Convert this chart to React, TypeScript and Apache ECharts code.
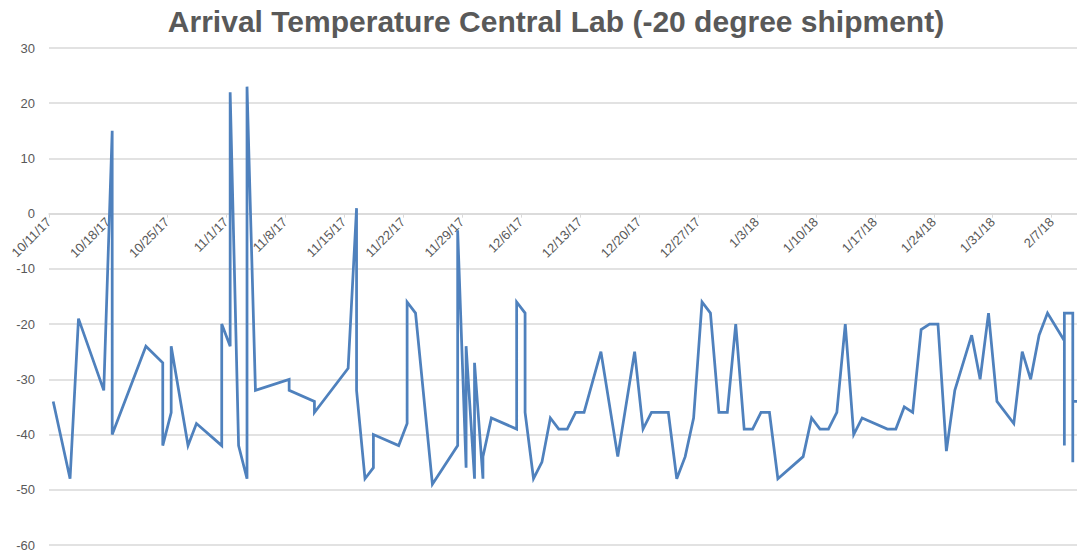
import React, { useEffect, useRef } from "react";
import * as echarts from "echarts";

const chartTitle = "Arrival Temperature Central Lab (-20 degree shipment)";

// Arrival dates (M/D/YY) and arrival temperatures (°C), in order of the line
const arrivalDates = [
  "10/11/17", "10/13/17", "10/14/17", "10/17/17", "10/18/17", "10/18/17",
  "10/22/17", "10/24/17", "10/24/17", "10/25/17", "10/25/17", "10/27/17",
  "10/28/17", "10/31/17", "10/31/17", "11/1/17", "11/1/17", "11/2/17",
  "11/3/17", "11/3/17", "11/4/17", "11/8/17", "11/8/17", "11/11/17",
  "11/11/17", "11/15/17", "11/16/17", "11/16/17", "11/17/17", "11/18/17",
  "11/18/17", "11/21/17", "11/22/17", "11/22/17", "11/23/17", "11/25/17",
  "11/28/17", "11/28/17", "11/29/17", "11/29/17", "11/30/17", "11/30/17",
  "12/1/17", "12/1/17", "12/2/17", "12/5/17", "12/5/17", "12/6/17",
  "12/6/17", "12/7/17", "12/8/17", "12/9/17", "12/10/17", "12/11/17",
  "12/12/17", "12/13/17", "12/15/17", "12/17/17", "12/19/17", "12/20/17",
  "12/21/17", "12/23/17", "12/24/17", "12/25/17", "12/26/17", "12/27/17",
  "12/28/17", "12/29/17", "12/30/17", "12/31/17", "1/1/18", "1/2/18",
  "1/3/18", "1/4/18", "1/5/18", "1/8/18", "1/9/18", "1/10/18",
  "1/11/18", "1/12/18", "1/13/18", "1/14/18", "1/15/18", "1/18/18",
  "1/19/18", "1/20/18", "1/21/18", "1/22/18", "1/23/18", "1/24/18",
  "1/25/18", "1/26/18", "1/28/18", "1/29/18", "1/30/18", "1/31/18",
  "2/2/18", "2/3/18", "2/4/18", "2/5/18", "2/6/18", "2/8/18",
  "2/8/18", "2/8/18", "2/9/18", "2/9/18", "2/9/18", "2/10/18",
];

const arrivalTemps = [
  -34, -48, -19, -32, 15, -40,
  -24, -27, -42, -36, -24, -42,
  -38, -42, -20, -24, 22, -42,
  -48, 23, -32, -30, -32, -34,
  -36, -28, 1, -32, -48, -46,
  -40, -42, -38, -16, -18, -49,
  -42, -3, -46, -24, -48, -27,
  -48, -44, -37, -39, -16, -18,
  -36, -48, -45, -37, -39, -39,
  -36, -36, -25, -44, -25, -39,
  -36, -36, -48, -44, -37, -16,
  -18, -36, -36, -20, -39, -39,
  -36, -36, -48, -44, -37, -39,
  -39, -36, -20, -40, -37, -39,
  -39, -35, -36, -21, -20, -20,
  -43, -32, -22, -30, -18, -34,
  -38, -25, -30, -22, -18, -23,
  -42, -18, -18, -45, -34, -34,
];

const axisStart = "10/11/17";
const tickDays = 7;
const axisDays = 122; // visible extent in days
const yMin = -60;
const yMax = 30;
const yStep = 10;

const DAY = 86400000;
function parseMDY(s: string): number {
  const [m, d, y] = s.split("/").map(Number);
  return Date.UTC(2000 + y, m - 1, d);
}
const t0 = parseMDY(axisStart);
function fmt(v: number): string {
  const dt = new Date(t0 + v * DAY);
  return `${dt.getUTCMonth() + 1}/${dt.getUTCDate()}/${String(dt.getUTCFullYear()).slice(2)}`;
}

const GRID_TOP = 48;
const GRID_BOTTOM = 9;
const H = 554;

export default function App() {
  const ref = useRef<HTMLDivElement>(null);
  useEffect(() => {
    if (!ref.current) return;
    const chart = echarts.init(ref.current, undefined, { renderer: "svg" });
    const data = arrivalDates.map((d, i) => [
      Math.round((parseMDY(d) - t0) / DAY) + 0.5,
      arrivalTemps[i],
    ]);
    const plotH = H - GRID_TOP - GRID_BOTTOM;
    const zeroOffset = -(plotH * (0 - yMin)) / (yMax - yMin);
    chart.setOption({
      animation: false,
      backgroundColor: "#ffffff",
      title: {
        text: chartTitle,
        left: 551,
        textAlign: "center",
        top: 1,
        textStyle: {
          fontFamily: "Liberation Sans, Arial, sans-serif",
          fontSize: 30,
          fontWeight: "bold",
          color: "#595959",
        },
      },
      grid: { left: 49, right: 0, top: GRID_TOP, bottom: GRID_BOTTOM, containLabel: false },
      xAxis: {
        type: "value",
        min: 0,
        max: axisDays,
        interval: tickDays,
        offset: zeroOffset,
        axisLine: { show: true, onZero: false, lineStyle: { color: "#d9d9d9", width: 1.5 } },
        axisTick: { show: true, length: 4, lineStyle: { color: "#d9d9d9" } },
        splitLine: { show: false },
        axisLabel: {
          rotate: 45,
          margin: 6,
          showMaxLabel: false,
          color: "#595959",
          fontSize: 13,
          fontFamily: "Liberation Sans, Arial, sans-serif",
          formatter: (v: number) => (Math.round(v) % tickDays === 0 ? fmt(v) : ""),
        },
      },
      yAxis: {
        type: "value",
        min: yMin,
        max: yMax,
        interval: yStep,
        axisLine: { show: false, onZero: false },
        axisTick: { show: false },
        splitLine: { show: true, lineStyle: { color: "#d9d9d9", width: 1.5 } },
        axisLabel: {
          margin: 14,
          color: "#595959",
          fontSize: 13,
          fontFamily: "Liberation Sans, Arial, sans-serif",
        },
      },
      series: [
        {
          type: "line",
          data,
          showSymbol: false,
          symbol: "none",
          clip: true,
          lineStyle: { color: "#4F81BD", width: 2.75, join: "miter" },
          itemStyle: { color: "#4F81BD" },
        },
      ],
    });
    return () => chart.dispose();
  }, []);
  return (
    <div
      ref={ref}
      style={{ position: "fixed", left: 0, top: 0, width: 1077, height: H }}
    />
  );
}
